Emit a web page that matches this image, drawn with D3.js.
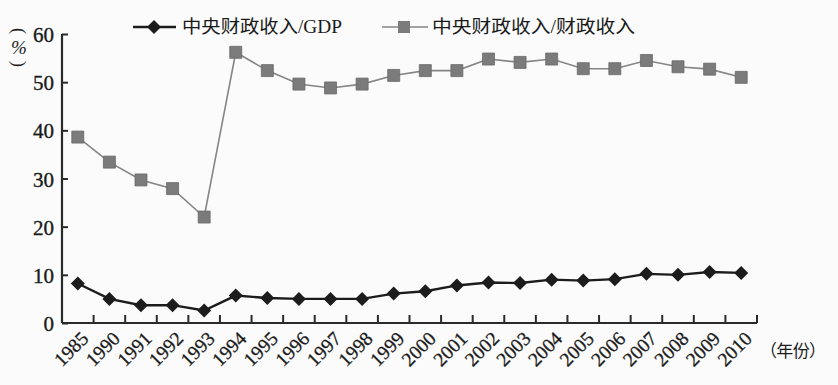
<!DOCTYPE html>
<html><head><meta charset="utf-8">
<script src="https://cdn.jsdelivr.net/npm/d3@7"></script>
<style>
html,body{margin:0;padding:0;background:#fbfbfb;}
svg{display:block;}
</style></head>
<body>
<script>
const years = ["1985","1990","1991","1992","1993","1994","1995","1996","1997","1998","1999","2000","2001","2002","2003","2004","2005","2006","2007","2008","2009","2010"];
const gdpShare = [8.2,5.0,3.7,3.7,2.6,5.7,5.2,5.0,5.0,5.0,6.1,6.6,7.8,8.4,8.3,9.0,8.8,9.1,10.2,10.0,10.6,10.4];
const revenueShare = [38.6,33.4,29.7,27.9,22.0,56.2,52.4,49.6,48.8,49.6,51.4,52.4,52.4,54.8,54.1,54.8,52.8,52.8,54.5,53.2,52.7,51.0];
const yTicks = [0,10,20,30,40,50,60];
const seriesNames = ["中央财政收入/GDP","中央财政收入/财政收入"];
const yUnit = "%";
const xUnit = "（年份）";

const W = 838, H = 385;
const svg = d3.select("body").append("svg").attr("width", W).attr("height", H);
svg.append("rect").attr("width", W).attr("height", H).attr("fill", "#fbfbfb");

const x = d3.scaleBand().domain(years).range([62, 757]).padding(0);
const y = d3.scaleLinear().domain([0, 60]).range([323, 34]);
const serif = "'Liberation Serif','Times New Roman',serif";
const cjk = "'Liberation Serif','Noto Sans CJK SC',serif";
const axisColor = "#2a2a2a";
const ink = "#1a1a1a";

// Y axis
const yAx = svg.append("g").attr("transform", `translate(${x.range()[0]},0)`)
  .call(d3.axisLeft(y).tickValues(yTicks).tickSize(-6).tickPadding(8).tickFormat(d3.format("d")));
yAx.select(".domain").remove();
yAx.selectAll(".tick line").attr("stroke", axisColor).attr("stroke-width", 2);
yAx.selectAll(".tick text").attr("font-family", serif).attr("font-size", 21).attr("fill", ink)
  .attr("stroke", ink).attr("stroke-width", 0.35).attr("dy", "0.36em");
svg.append("line").attr("x1", x.range()[0]).attr("x2", x.range()[0]).attr("y1", y(60)).attr("y2", y(0))
  .attr("stroke", axisColor).attr("stroke-width", 2.2);

// X axis
svg.append("line").attr("x1", x.range()[0]).attr("x2", x.range()[1]).attr("y1", y(0)).attr("y2", y(0))
  .attr("stroke", axisColor).attr("stroke-width", 2.2);
svg.append("g").selectAll("line").data(years).join("line")
  .attr("x1", d => x(d) + x.bandwidth()).attr("x2", d => x(d) + x.bandwidth())
  .attr("y1", y(0)).attr("y2", y(0) - 8)
  .attr("stroke", axisColor).attr("stroke-width", 2);
const xAx = svg.append("g").attr("transform", `translate(0,${y(0)})`)
  .call(d3.axisBottom(x).tickSize(0).tickPadding(0));
xAx.select(".domain").remove();
xAx.selectAll(".tick text")
  .attr("font-family", serif).attr("font-size", 19.5).attr("fill", ink)
  .attr("stroke", ink).attr("stroke-width", 0.3)
  .attr("text-anchor", "end")
  .attr("transform", "translate(7,12) rotate(-45)")
  .attr("dy", "0.35em").attr("y", 0).attr("x", 0);

// Lines
const line = (arr) => d3.line().x((d, i) => x(years[i]) + x.bandwidth() / 2).y(d => y(d))(arr);
svg.append("path").attr("d", line(revenueShare)).attr("fill", "none").attr("stroke", "#858585").attr("stroke-width", 1.6);
svg.append("path").attr("d", line(gdpShare)).attr("fill", "none").attr("stroke", "#1c1c1c").attr("stroke-width", 2.4);

const sq = d3.symbol().type(d3.symbolSquare).size(144);
const dm = d3.symbol().type(d3.symbolSquare).size(98);
svg.append("g").selectAll("path").data(revenueShare).join("path")
  .attr("d", sq)
  .attr("transform", (d, i) => `translate(${x(years[i]) + x.bandwidth() / 2},${y(d)})`)
  .attr("fill", "#7b7b7b").attr("stroke", "#6a6a6a").attr("stroke-width", 0.8);
svg.append("g").selectAll("path").data(gdpShare).join("path")
  .attr("d", dm)
  .attr("transform", (d, i) => `translate(${x(years[i]) + x.bandwidth() / 2},${y(d)}) rotate(45)`)
  .attr("fill", "#1c1c1c");

// Legend
const lg = svg.append("g");
lg.append("line").attr("x1", 133).attr("x2", 176).attr("y1", 27).attr("y2", 27).attr("stroke", "#1c1c1c").attr("stroke-width", 2.4);
lg.append("path").attr("d", dm).attr("transform", "translate(154,27) rotate(45)").attr("fill", "#1c1c1c");
lg.append("text").attr("x", 182).attr("y", 33).text(seriesNames[0])
  .attr("font-family", cjk).attr("font-size", 18).attr("fill", ink)
  .attr("textLength", 160).attr("lengthAdjust", "spacingAndGlyphs");
lg.append("line").attr("x1", 382).attr("x2", 428).attr("y1", 27).attr("y2", 27).attr("stroke", "#858585").attr("stroke-width", 1.6);
lg.append("path").attr("d", sq).attr("transform", "translate(404,27)").attr("fill", "#7b7b7b");
lg.append("text").attr("x", 432).attr("y", 33).text(seriesNames[1])
  .attr("font-family", cjk).attr("font-size", 18).attr("fill", ink)
  .attr("textLength", 203).attr("lengthAdjust", "spacingAndGlyphs");

// Units: vertical (%)
const yu = svg.append("g").attr("font-family", serif).attr("fill", ink);
yu.append("text").attr("transform", "translate(19,31) rotate(90)").attr("text-anchor", "middle").attr("dy", "0.33em")
  .attr("font-size", 18).text("(");
yu.append("text").attr("x", 19).attr("y", 47).attr("text-anchor", "middle").attr("dy", "0.35em")
  .attr("font-size", 19).attr("font-style", "italic").text(yUnit);
yu.append("text").attr("transform", "translate(19,64) rotate(90)").attr("text-anchor", "middle").attr("dy", "0.33em")
  .attr("font-size", 18).text(")");
svg.append("text").attr("x", 760).attr("y", 357).text(xUnit)
  .attr("font-family", cjk).attr("font-size", 17).attr("fill", ink)
  .attr("textLength", 66).attr("lengthAdjust", "spacing");
</script>
</body></html>
